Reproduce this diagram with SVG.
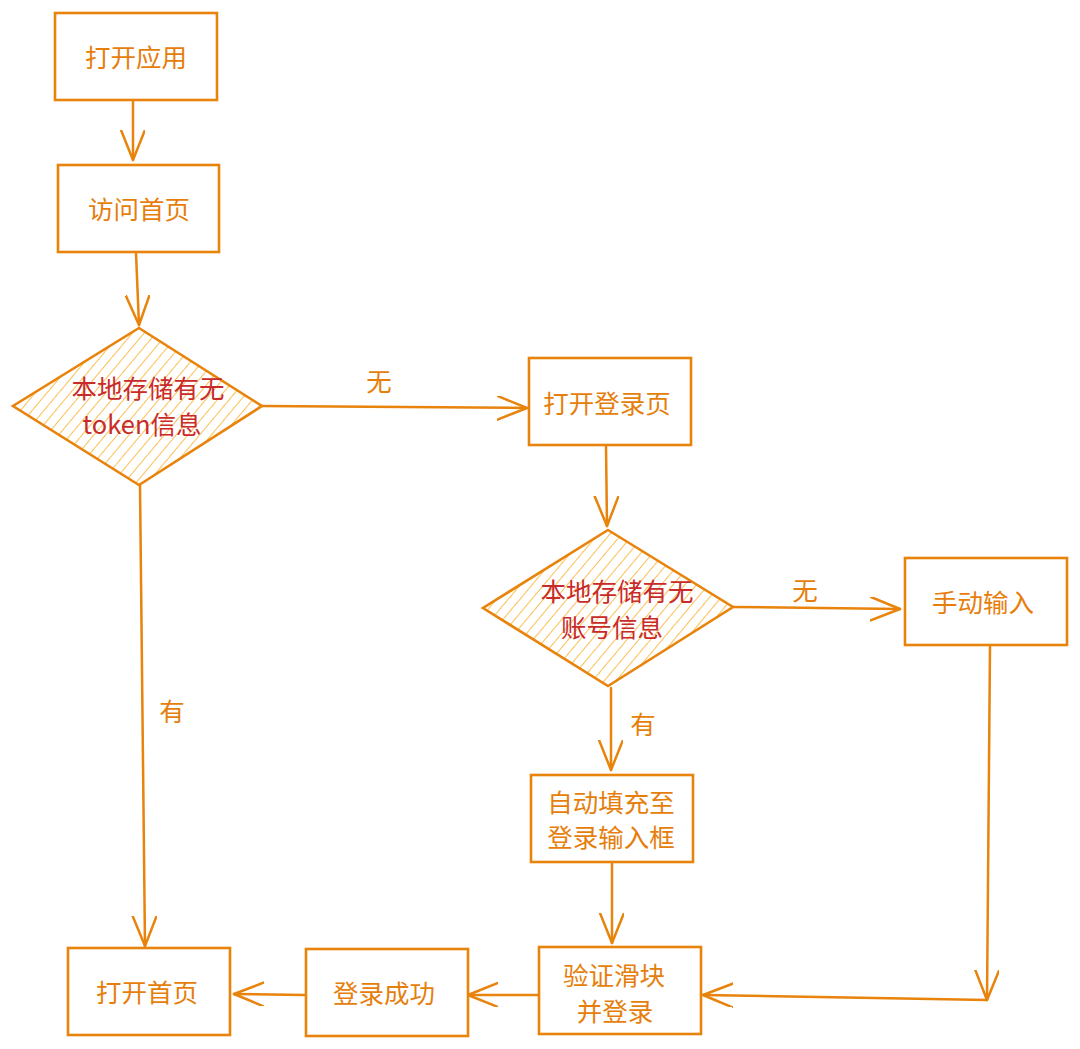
<svg xmlns="http://www.w3.org/2000/svg" width="1080" height="1049" viewBox="0 0 1080 1049">
<style>
.box{fill:#fff;stroke:#e8830c;stroke-width:2.6}
.dia{stroke:#e8830c;stroke-width:2.6}
.t{font-family:"Noto Sans CJK SC","Liberation Sans",sans-serif;font-size:25.5px;fill:#e67e0c;text-anchor:middle;dominant-baseline:central}
.r{fill:#c92a2a}
.ln{fill:none;stroke:#e8830c;stroke-width:2.5;stroke-linecap:round;stroke-linejoin:round}
</style>
<defs>
<pattern id="hatch" patternUnits="userSpaceOnUse" width="9" height="9" patternTransform="rotate(40)">
<line x1="0" y1="0" x2="0" y2="9" stroke="#f9ab1a" stroke-width="1.5"/>
</pattern>
<marker id="ah" markerWidth="36" markerHeight="30" refX="30" refY="12" orient="auto" markerUnits="userSpaceOnUse">
<path d="M0,0 L30,12 L0,24" fill="none" stroke="#e8830c" stroke-width="2.5" stroke-linecap="round" stroke-linejoin="round"/>
</marker>
</defs>
<rect width="1080" height="1049" fill="#fff"/>
<g id="connectors">
<path class="ln" d="M133,100 L133,160" marker-end="url(#ah)"/>
<path class="ln" d="M136,253 L139,325" marker-end="url(#ah)"/>
<path class="ln" d="M262,406 L527,408" marker-end="url(#ah)"/>
<text class="t" x="379" y="379">无</text>
<path class="ln" d="M140,485 L145,946" marker-end="url(#ah)"/>
<text class="t" x="172" y="709">有</text>
<path class="ln" d="M606,446 L607,526" marker-end="url(#ah)"/>
<path class="ln" d="M733,607 L900,609" marker-end="url(#ah)"/>
<text class="t" x="805" y="588">无</text>
<path class="ln" d="M611,688 L611,770" marker-end="url(#ah)"/>
<text class="t" x="643" y="722">有</text>
<path class="ln" d="M990,646 L987,1000" marker-end="url(#ah)"/>
<path class="ln" d="M987,1000 L703,995" marker-end="url(#ah)"/>
<path class="ln" d="M612,863 L612,943" marker-end="url(#ah)"/>
<path class="ln" d="M539,995 L468,995" marker-end="url(#ah)"/>
<path class="ln" d="M305,995 L234,994" marker-end="url(#ah)"/>
</g>
<g id="n1"><rect class="box" x="55" y="13" width="162" height="87"/><text class="t" x="136" y="55">打开应用</text></g>
<g id="n2"><rect class="box" x="58" y="165" width="161" height="87"/><text class="t" x="139" y="207">访问首页</text></g>
<g id="d1"><polygon points="139,328 262,406 139,485 13,406" fill="url(#hatch)" class="dia"/><text class="t r" x="148" y="386">本地存储有无</text><text class="t r" x="142" y="422">token信息</text></g>
<g id="n3"><rect class="box" x="529" y="358" width="162" height="87"/><text class="t" x="607" y="401">打开登录页</text></g>
<g id="d2"><polygon points="608,530 733,607 608,686 483,608" fill="url(#hatch)" class="dia"/><text class="t r" x="617" y="589">本地存储有无</text><text class="t r" x="612" y="625">账号信息</text></g>
<g id="n4"><rect class="box" x="905" y="558" width="162" height="87"/><text class="t" x="983" y="600">手动输入</text></g>
<g id="n5"><rect class="box" x="531" y="775" width="162" height="87"/><text class="t" x="611" y="800">自动填充至</text><text class="t" x="611" y="835">登录输入框</text></g>
<g id="n6"><rect class="box" x="539" y="947" width="162" height="87"/><text class="t" x="614" y="973">验证滑块</text><text class="t" x="615" y="1009">并登录</text></g>
<g id="n7"><rect class="box" x="306" y="949" width="162" height="87"/><text class="t" x="384" y="991">登录成功</text></g>
<g id="n8"><rect class="box" x="68" y="948" width="162" height="87"/><text class="t" x="147" y="990">打开首页</text></g>
</svg>
